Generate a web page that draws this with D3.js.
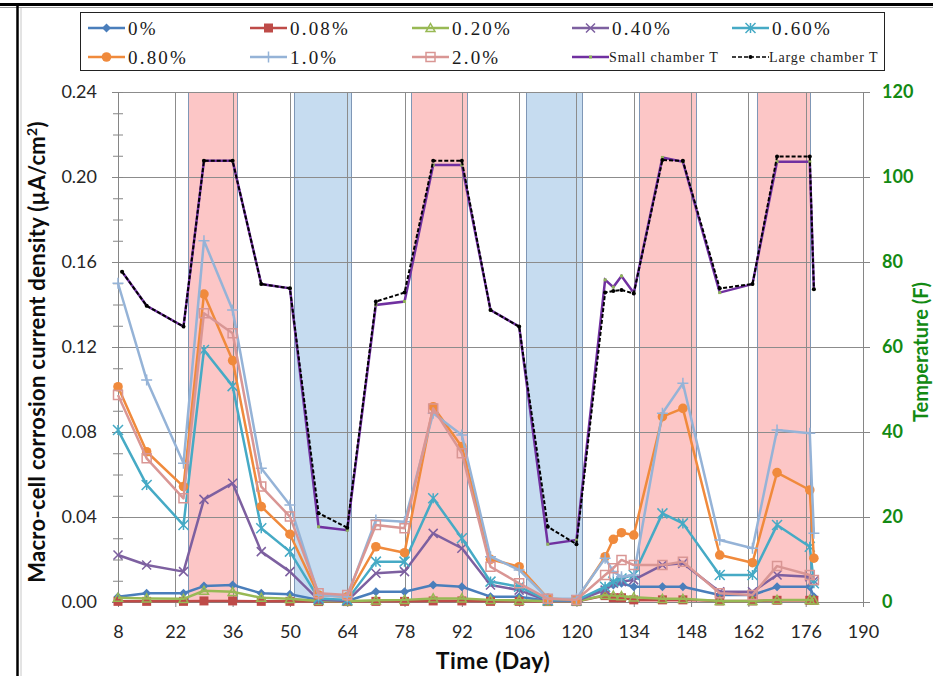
<!DOCTYPE html>
<html>
<head>
<meta charset="utf-8">
<script src="https://cdn.jsdelivr.net/npm/d3@7"></script>
<style>
    body { margin: 0; background: #fff; }
    #chart { width: 933px; height: 676px; overflow: hidden; }
    .axis text { font-family: Lato, 'Liberation Sans', sans-serif; font-size: 18px; fill: #262626; }
    .axis path, .axis line { stroke: #868686; }
    .axis-right text { fill: #138a13; font-weight: bold; }
    .legend text { font-family: 'Liberation Serif', 'DejaVu Serif', serif; fill: #1a1a1a; }
</style>
</head>
<body>
<div id="chart"></div>
<script>

// measurement days (current density) and temperature days
const days = [8, 15, 24, 29, 36, 43, 50, 57, 64, 71, 78, 85, 92, 99, 106, 113, 120,
              127, 129, 131, 134, 141, 146, 155, 163, 169, 177, 178];
const tempDays = [9, 15, 24, 29, 36, 43, 50, 57, 64, 71, 78, 85, 92, 99, 106, 113, 120,
                  127, 129, 131, 134, 141, 146, 155, 163, 169, 177, 178];

// macro-cell corrosion current density (uA/cm2) by chloride content
const pct0   = [0.0025, 0.0041, 0.0041, 0.0075, 0.0080, 0.0041, 0.0036, 0.0010, 0.0005, 0.0048, 0.0048, 0.0080, 0.0072, 0.0025,
                0.0025, 0.0005, 0.0005, 0.0064, 0.0080, 0.0088, 0.0072, 0.0072, 0.0072, 0.0033, 0.0033, 0.0072, 0.0072, 0.0025];
const pct008 = [0.0003, 0.0003, 0.0003, 0.0005, 0.0005, 0.0003, 0.0003, 0.0002, 0.0002, 0.0003, 0.0003, 0.0005, 0.0005, 0.0003,
                0.0003, 0.0002, 0.0002, 0.0030, 0.0020, 0.0020, 0.0010, 0.0010, 0.0010, 0.0005, 0.0005, 0.0008, 0.0008, 0.0008];
const pct020 = [0.0020, 0.0017, 0.0015, 0.0053, 0.0048, 0.0020, 0.0015, 0.0005, 0.0003, 0.0008, 0.0010, 0.0017, 0.0017, 0.0010,
                0.0008, 0.0003, 0.0003, 0.0033, 0.0030, 0.0028, 0.0022, 0.0015, 0.0015, 0.0005, 0.0005, 0.0010, 0.0010, 0.0008];
const pct040 = [0.0221, 0.0174, 0.0143, 0.0483, 0.0559, 0.0237, 0.0143, 0.0010, 0.0005, 0.0135, 0.0143, 0.0323, 0.0253, 0.0080,
                0.0056, 0.0005, 0.0005, 0.0056, 0.0088, 0.0096, 0.0104, 0.0174, 0.0182, 0.0048, 0.0048, 0.0127, 0.0119, 0.0100];
const pct060 = [0.0809, 0.0551, 0.0362, 0.1186, 0.1016, 0.0347, 0.0237, 0.0017, 0.0010, 0.0190, 0.0190, 0.0488, 0.0300, 0.0096,
                0.0072, 0.0008, 0.0008, 0.0072, 0.0096, 0.0111, 0.0127, 0.0417, 0.0370, 0.0127, 0.0127, 0.0362, 0.0260, 0.0088];
const pct080 = [0.1013, 0.0707, 0.0543, 0.1449, 0.1136, 0.0449, 0.0319, 0.0033, 0.0025, 0.0260, 0.0232, 0.0919, 0.0731, 0.0201,
                0.0166, 0.0017, 0.0010, 0.0213, 0.0295, 0.0326, 0.0315, 0.0872, 0.0911, 0.0221, 0.0185, 0.0609, 0.0527, 0.0206];
const pct10  = [0.1500, 0.1045, 0.0653, 0.1700, 0.1374, 0.0629, 0.0456, 0.0033, 0.0025, 0.0386, 0.0378, 0.0888, 0.0786, 0.0213,
                0.0151, 0.0017, 0.0015, 0.0206, 0.0143, 0.0119, 0.0127, 0.0888, 0.1029, 0.0292, 0.0253, 0.0809, 0.0794, 0.0323];
const pct20  = [0.0974, 0.0676, 0.0488, 0.1359, 0.1265, 0.0543, 0.0402, 0.0041, 0.0033, 0.0362, 0.0347, 0.0911, 0.0700, 0.0166,
                0.0088, 0.0015, 0.0010, 0.0127, 0.0159, 0.0198, 0.0174, 0.0174, 0.0190, 0.0041, 0.0033, 0.0169, 0.0127, 0.0104];

// chamber temperatures (F)
const smallT = [77.7, 69.7, 64.8, 103.8, 103.8, 74.8, 73.8, 17.7, 16.9, 69.9, 70.7, 102.8, 102.8, 68.7,
                64.8, 13.6, 14.6, 75.8, 74.1, 76.7, 72.7, 104.6, 103.6, 72.8, 74.8, 103.6, 103.6, 73.6];
const largeT = [77.7, 69.7, 64.8, 103.8, 103.8, 74.8, 73.8, 20.9, 17.5, 70.7, 72.8, 103.8, 103.8, 68.7,
                64.8, 17.7, 13.6, 72.8, 73.2, 73.4, 72.6, 104.0, 103.8, 73.8, 74.8, 104.8, 104.8, 73.6];

// hot (pink) and cold (blue) periods, in days
const hotBands  = [[25.2, 37.1], [79.6, 93.3], [135.3, 149.2], [164.1, 177.1]];
const coldBands = [[51.1, 65.0], [107.7, 121.4]];

// tick labels
const xTicks = [8, 22, 36, 50, 64, 78, 92, 106, 120, 134, 148, 162, 176, 190];
const yTicks = [0, 0.04, 0.08, 0.12, 0.16, 0.20, 0.24];
const tTicks = [0, 20, 40, 60, 80, 100, 120];

const corrosionChart = (function () {

    let svg = null,
        plot = null,
        width = null,
        height = null,
        margin = null,
        xScale = null,
        yScale = null,
        tScale = null
    ;

    return {
        init
    };

    function init() {

        var container = document.getElementById('chart');
        margin = {top: 92, right: 70, bottom: 74, left: 118};

        width = 933 - margin.left - margin.right;
        height = 676 - margin.top - margin.bottom;

        xScale = d3.scaleLinear().domain([8, 190]).range([0, width]);
        yScale = d3.scaleLinear().domain([0, 0.24]).range([height, 0]);
        tScale = d3.scaleLinear().domain([0, 120]).range([height, 0]);

        svg = d3.select(container).append('svg')
            .attr('width', 933)
            .attr('height', 676);

        drawFrame();

        plot = svg.append('g')
            .attr('transform', 'translate(' + margin.left + ',' + margin.top + ')');

        drawBands();
        drawGrid();
        drawAxes();
        drawSeries();
        drawLegend();
    }

    function seriesTable() {
        return [
            {name: '0%',    values: pct0,   color: '#4a7ebb', marker: 'diamond', size: 4.5},
            {name: '0.08%', values: pct008, color: '#be4b48', marker: 'square', size: 4.5},
            {name: '0.20%', values: pct020, color: '#98b954', marker: 'triangle', size: 4.5},
            {name: '0.40%', values: pct040, color: '#7d60a0', marker: 'x', size: 4.5},
            {name: '0.60%', values: pct060, color: '#46aac5', marker: 'star', size: 5},
            {name: '0.80%', values: pct080, color: '#f08a3c', marker: 'circle', size: 4.8},
            {name: '1.0%',  values: pct10,  color: '#95b3d7', marker: 'plus', size: 5.5},
            {name: '2.0%',  values: pct20,  color: '#d99694', marker: 'openSquare', size: 4.5}
        ];
    }

    function drawFrame() {
        // picture border (top and left)
        svg.append('line').attr('x1', 0).attr('x2', 933).attr('y1', 4.5).attr('y2', 4.5)
            .attr('stroke', '#000').attr('stroke-width', 3);
        svg.append('line').attr('x1', 0).attr('x2', 933).attr('y1', 7.5).attr('y2', 7.5)
            .attr('stroke', '#9a9a9a').attr('stroke-width', 1);
        svg.append('line').attr('x1', 17.5).attr('x2', 17.5).attr('y1', 3).attr('y2', 676)
            .attr('stroke', '#000').attr('stroke-width', 2.5);
        svg.append('line').attr('x1', 21).attr('x2', 21).attr('y1', 8).attr('y2', 676)
            .attr('stroke', '#c8c8c8').attr('stroke-width', 1);
    }

    function drawBands() {

        var bands = hotBands.map(b => ({from: b[0], to: b[1], fill: '#fcc6c6'}))
            .concat(coldBands.map(b => ({from: b[0], to: b[1], fill: '#c6dcf0'})));

        plot.selectAll('.band')
            .data(bands)
            .enter().append('rect')
            .attr('class', 'band')
            .attr('x', d => xScale(d.from))
            .attr('width', d => xScale(d.to) - xScale(d.from))
            .attr('y', 0)
            .attr('height', height)
            .attr('fill', d => d.fill);

        //band edges
        var edges = [];
        bands.forEach(b => { edges.push(b.from); edges.push(b.to); });

        plot.selectAll('.band-edge')
            .data(edges)
            .enter().append('line')
            .attr('class', 'band-edge')
            .attr('x1', d => Math.round(xScale(d)) + 0.5)
            .attr('x2', d => Math.round(xScale(d)) + 0.5)
            .attr('y1', 0)
            .attr('y2', height)
            .attr('stroke', '#7f97b6')
            .attr('stroke-width', 1);
    }

    function drawGrid() {

        plot.selectAll('.hgrid')
            .data(yTicks.filter(d => d > 0))
            .enter().append('line')
            .attr('class', 'hgrid')
            .attr('x1', 0)
            .attr('x2', width)
            .attr('y1', d => Math.round(yScale(d)) + 0.5)
            .attr('y2', d => Math.round(yScale(d)) + 0.5)
            .attr('stroke', '#8c8c8c');

        plot.selectAll('.vgrid')
            .data(xTicks.slice(1))
            .enter().append('line')
            .attr('class', 'vgrid')
            .attr('x1', d => Math.round(xScale(d)) + 0.5)
            .attr('x2', d => Math.round(xScale(d)) + 0.5)
            .attr('y1', 0)
            .attr('y2', height)
            .attr('stroke', '#8c8c8c');
    }

    function drawAxes() {

        //minor ticks on the left axis
        var minor = d3.range(1, 24).filter(i => i % 4 != 0).map(i => i / 100);
        plot.append('g')
            .attr('class', 'axis')
            .call(d3.axisLeft(yScale).tickValues(minor).tickSize(5).tickFormat(''))
            .call(g => g.select('.domain').remove())
            .selectAll('.tick line').attr('x1', 5);

        //Y axis
        plot.append('g')
            .attr('class', 'axis')
            .call(d3.axisLeft(yScale)
                .tickValues(yTicks)
                .tickFormat(d3.format('.2f'))
                .tickSizeInner(6)
                .tickSizeOuter(0)
                .tickPadding(15))
            .selectAll('.tick line').attr('x1', 5);

        //Temperature axis
        plot.append('g')
            .attr('class', 'axis axis-right')
            .attr('transform', 'translate(' + width + ',0)')
            .call(d3.axisRight(tScale)
                .tickValues(tTicks)
                .tickSizeInner(7)
                .tickSizeOuter(0)
                .tickPadding(12));

        //X axis
        plot.append('g')
            .attr('class', 'axis')
            .attr('transform', 'translate(0,' + height + ')')
            .call(d3.axisBottom(xScale)
                .tickValues(xTicks)
                .tickSizeInner(5)
                .tickSizeOuter(0)
                .tickPadding(18));

        svg.append('text')
            .attr('transform', 'translate(45,352) rotate(-90)')
            .style('text-anchor', 'middle')
            .style('font-family', 'Lato, sans-serif')
            .style('font-weight', 'bold')
            .style('font-size', '22px')
            .style('letter-spacing', '0.3px')
            .attr('fill', '#0d0d0d')
            .html('Macro-cell corrosion current density (µA/cm<tspan dy="-8" font-size="14px">2</tspan><tspan dy="8">)</tspan>');

        svg.append('text')
            .attr('x', 493)
            .attr('y', 669)
            .style('text-anchor', 'middle')
            .style('font-family', 'Lato, sans-serif')
            .style('font-weight', 'bold')
            .style('font-size', '23px')
            .style('letter-spacing', '0.5px')
            .attr('fill', '#0d0d0d')
            .text('Time (Day)');

        svg.append('text')
            .attr('transform', 'translate(928,352) rotate(-90)')
            .style('text-anchor', 'middle')
            .style('font-family', 'Lato, sans-serif')
            .style('font-weight', 'bold')
            .style('font-size', '20px')
            .attr('fill', '#138a13')
            .text('Temperature (F)');
    }

    function markerPath(type, s) {
        switch (type) {
            case 'diamond': return 'M0,' + (-s) + 'L' + s + ',0L0,' + s + 'L' + (-s) + ',0Z';
            case 'square':
            case 'openSquare': return 'M' + (-s) + ',' + (-s) + 'h' + 2 * s + 'v' + 2 * s + 'h' + (-2 * s) + 'Z';
            case 'triangle': return 'M0,' + (-s) + 'L' + s + ',' + 0.8 * s + 'L' + (-s) + ',' + 0.8 * s + 'Z';
            case 'x': return 'M' + (-s) + ',' + (-s) + 'L' + s + ',' + s + 'M' + (-s) + ',' + s + 'L' + s + ',' + (-s);
            case 'star': return 'M' + (-s) + ',' + (-s) + 'L' + s + ',' + s + 'M' + (-s) + ',' + s + 'L' + s + ',' + (-s) +
                                'M0,' + (-s) + 'V' + s;
            case 'plus': return 'M' + (-s) + ',0H' + s + 'M0,' + (-s) + 'V' + s;
            case 'circle': return d3.symbol(d3.symbolCircle, Math.PI * s * s)();
        }
    }

    function styleMarker(sel, d) {
        var filled = ['diamond', 'square', 'circle'].indexOf(d.marker) >= 0;
        sel.attr('d', markerPath(d.marker, d.size))
            .attr('fill', filled ? d.color : 'none')
            .attr('stroke', filled ? 'none' : d.color)
            .attr('stroke-width', 1.5);
    }

    function drawSeries() {

        var line = d3.line()
            .x((d, i) => xScale(days[i]))
            .y(d => yScale(d));

        seriesTable().forEach(function (s) {

            var g = plot.append('g').attr('class', 'series');

            g.append('path')
                .datum(s.values)
                .attr('fill', 'none')
                .attr('stroke', s.color)
                .attr('stroke-width', 2.5)
                .attr('stroke-linejoin', 'round')
                .attr('d', line);

            g.selectAll('.mark')
                .data(s.values)
                .enter().append('path')
                .attr('class', 'mark')
                .attr('transform', (d, i) => 'translate(' + xScale(days[i]) + ',' + yScale(d) + ')')
                .each(function () { styleMarker(d3.select(this), s); });
        });

        var tLine = d3.line()
            .x((d, i) => xScale(tempDays[i]))
            .y(d => tScale(d));

        //small chamber T
        plot.append('path')
            .datum(smallT)
            .attr('fill', 'none')
            .attr('stroke', '#7030a0')
            .attr('stroke-width', 2.5)
            .attr('d', tLine);

        plot.selectAll('.small-mark')
            .data(smallT)
            .enter().append('rect')
            .attr('class', 'small-mark')
            .attr('x', (d, i) => xScale(tempDays[i]) - 1.5)
            .attr('y', d => tScale(d) - 1.5)
            .attr('width', 3)
            .attr('height', 3)
            .attr('fill', '#8fb35a');

        //large chamber T
        plot.append('path')
            .datum(largeT)
            .attr('fill', 'none')
            .attr('stroke', '#000')
            .attr('stroke-width', 2)
            .attr('stroke-dasharray', '4,2')
            .attr('d', tLine);

        plot.selectAll('.large-mark')
            .data(largeT)
            .enter().append('circle')
            .attr('class', 'large-mark')
            .attr('cx', (d, i) => xScale(tempDays[i]))
            .attr('cy', d => tScale(d))
            .attr('r', 2)
            .attr('fill', '#000');
    }

    function drawLegend() {

        var legend = svg.append('g').attr('class', 'legend');

        legend.append('rect')
            .attr('x', 80.5)
            .attr('y', 12.5)
            .attr('width', 804)
            .attr('height', 58)
            .attr('fill', '#fff')
            .attr('stroke', '#222');

        var items = seriesTable().concat([
            {name: 'Small chamber T', color: '#7030a0', marker: 'small'},
            {name: 'Large chamber T', color: '#000', marker: 'large'}
        ]);

        var colX = [88, 250, 412, 572, 732],
            rowY = [28, 57];

        items.forEach(function (d, i) {
            var x = colX[i % 5],
                y = rowY[Math.floor(i / 5)],
                g = legend.append('g').attr('transform', 'translate(' + x + ',' + y + ')');

            var ln = g.append('line')
                .attr('x1', 0).attr('x2', 37)
                .attr('stroke', d.color)
                .attr('stroke-width', d.marker == 'large' ? 1.5 : 2.5);

            if (d.marker == 'large') {
                ln.attr('stroke-dasharray', '4,2');
                g.append('circle').attr('cx', 18.5).attr('r', 2).attr('fill', '#000');
            } else if (d.marker == 'small') {
                g.append('rect').attr('x', 17).attr('y', -1.5).attr('width', 3).attr('height', 3).attr('fill', '#8fb35a');
            } else {
                g.append('path')
                    .attr('transform', 'translate(18.5,0)')
                    .each(function () { styleMarker(d3.select(this), d); });
            }

            var small = d.marker == 'small' || d.marker == 'large';
            g.append('text')
                .attr('x', small ? 37 : 40)
                .attr('y', small ? 5 : 6.5)
                .style('font-size', small ? '14px' : '19px')
                .style('letter-spacing', small ? '0.9px' : '2.2px')
                .text(d.name);
        });
    }

}());

corrosionChart.init();

</script>
</body>
</html>
